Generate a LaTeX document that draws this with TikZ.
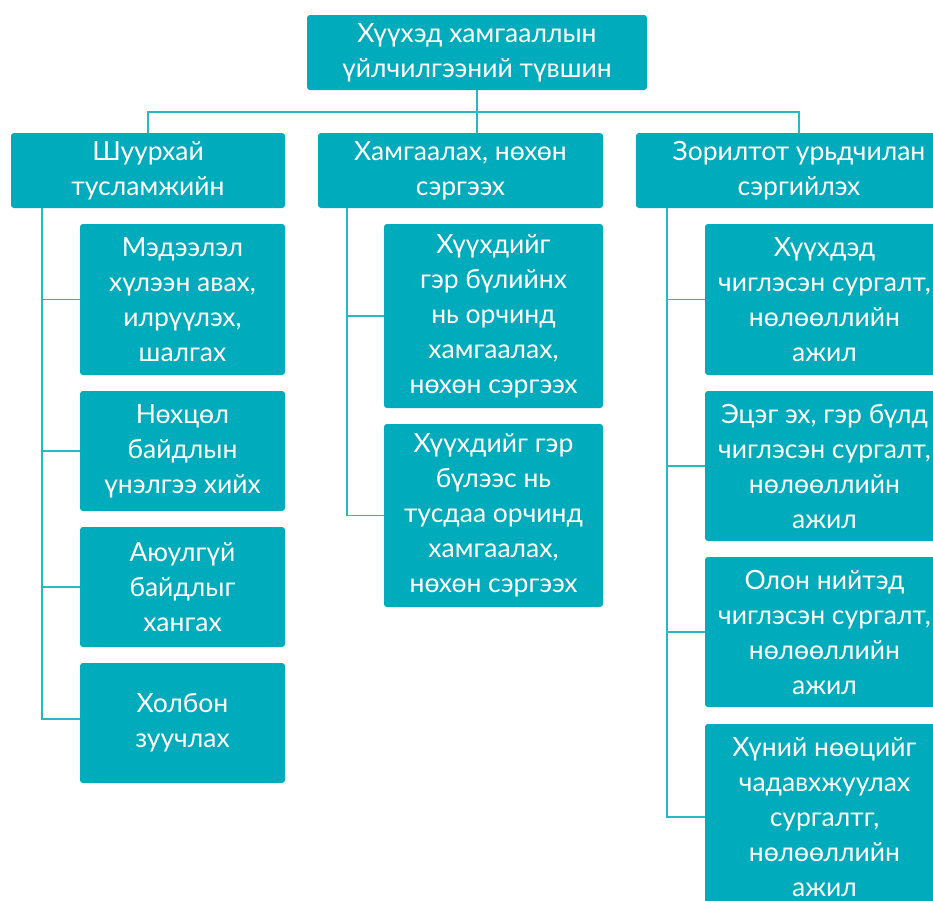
\documentclass[tikz,border=0pt]{standalone}
\usepackage{fontspec}
\setmainfont{Lato}
\usepackage{xcolor}
\usepackage{tikz}

\definecolor{boxteal}{RGB}{0,171,187}
\definecolor{lineteal}{RGB}{40,184,198}
\tikzset{
  box/.style={fill=boxteal, rounded corners=3pt, text=white, align=center,
    inner sep=0pt, font=\fontsize{26.5}{35}\selectfont},
  link/.style={draw=lineteal, line width=1.5pt},
}

\begin{document}
\begin{tikzpicture}[x=1pt,y=-1pt]
\useasboundingbox (0,0) rectangle (933,900);
\clip (0,0) rectangle (933,900);

\node[box, minimum width=340pt, minimum height=75pt] (top) at (477,52.5) {Хүүхэд хамгааллын\\үйлчилгээний түвшин};

\node[box, minimum width=274pt, minimum height=75pt] (A) at (148,170.5) {Шуурхай\\тусламжийн};
\node[box, minimum width=285pt, minimum height=75pt] (B) at (460.5,170.5) {Хамгаалах, нөхөн\\сэргээх};
\node[box, minimum width=326pt, minimum height=75pt] (C) at (799,170.5) {Зорилтот урьдчилан\\сэргийлэх};

\node[box, minimum width=205pt, minimum height=151pt] (A1) at (182.5,299.5) {Мэдээлэл\\хүлээн авах,\\илрүүлэх,\\шалгах};
\node[box, minimum width=205pt, minimum height=120pt] (A2) at (182.5,451) {Нөхцөл\\байдлын\\үнэлгээ хийх};
\node[box, minimum width=205pt, minimum height=120pt] (A3) at (182.5,587) {Аюулгүй\\байдлыг\\хангах};
\node[box, minimum width=205pt, minimum height=120pt] (A4) at (182.5,723) {Холбон\\зуучлах};

\node[box, minimum width=219pt, minimum height=184pt] (B1) at (493.5,316) {Хүүхдийг\\гэр бүлийнх\\нь орчинд\\хамгаалах,\\нөхөн сэргээх};
\node[box, minimum width=219pt, minimum height=183pt] (B2) at (493.5,515.5) {Хүүхдийг гэр\\бүлээс нь\\тусдаа орчинд\\хамгаалах,\\нөхөн сэргээх};

\node[box, minimum width=239pt, minimum height=151pt] (C1) at (824.5,299.5) {Хүүхдэд\\чиглэсэн сургалт,\\нөлөөллийн\\ажил};
\node[box, minimum width=239pt, minimum height=150pt] (C2) at (824.5,466) {Эцэг эх, гэр бүлд\\чиглэсэн сургалт,\\нөлөөллийн\\ажил};
\node[box, minimum width=239pt, minimum height=150pt] (C3) at (824.5,632) {Олон нийтэд\\чиглэсэн сургалт,\\нөлөөллийн\\ажил};
\node[box, minimum width=239pt, minimum height=186pt] (C4) at (824.5,817) {Хүний нөөцийг\\чадавхжуулах\\сургалтг,\\нөлөөллийн\\ажил};

% top level
\coordinate (bar) at (477,112);
\draw[link] (top.south) -- (top.south |- B.north);
\draw[link] (A.north) |- (bar) -| (C.north);

% first column
\coordinate (Aspine) at ([xshift=31pt]A.south west);
\draw[link] (Aspine) |- ([yshift=4pt]A4.west);
\draw[link] (Aspine |- A1.west) -- (A1.west);
\draw[link] (Aspine |- A2.west) -- (A2.west);
\draw[link] (Aspine |- A3.west) -- (A3.west);

% second column
\coordinate (Bspine) at ([xshift=29pt]B.south west);
\draw[link] (Bspine) |- (B2.west);
\draw[link] (Bspine |- B1.west) -- (B1.west);

% third column
\coordinate (Cspine) at ([xshift=31pt]C.south west);
\draw[link] (Cspine) |- (C4.west);
\draw[link] (Cspine |- C1.west) -- (C1.west);
\draw[link] (Cspine |- C2.west) -- (C2.west);
\draw[link] (Cspine |- C3.west) -- (C3.west);
\end{tikzpicture}
\end{document}
